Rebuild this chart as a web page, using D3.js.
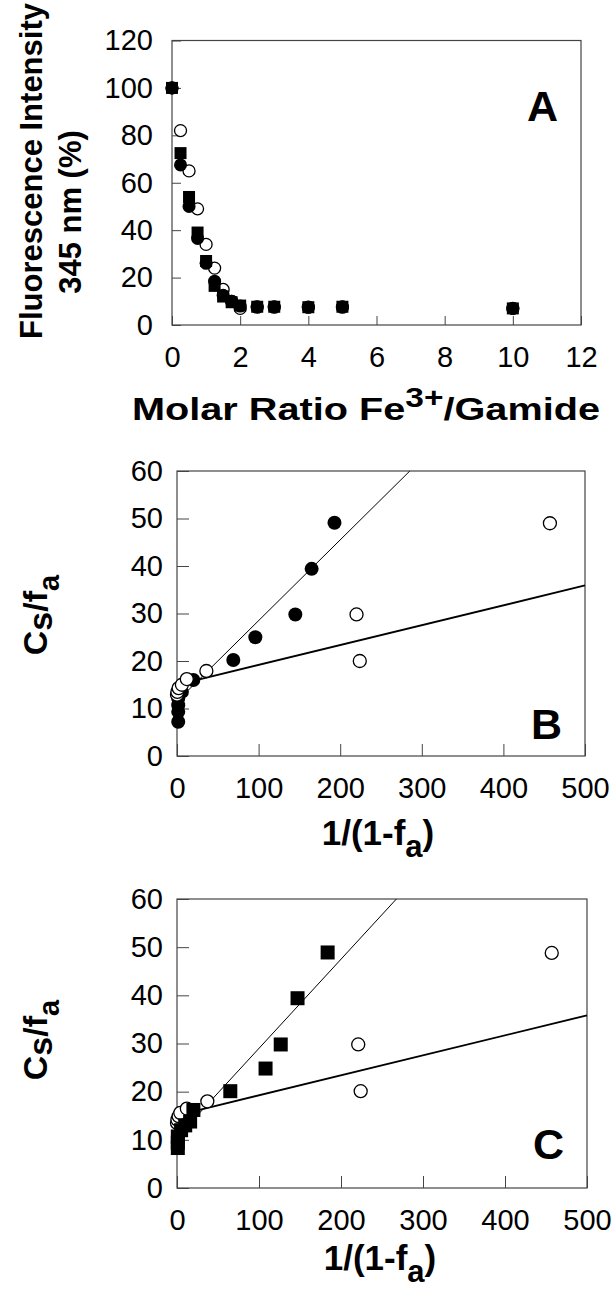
<!DOCTYPE html>
<html>
<head>
<meta charset="utf-8">
<script src="https://cdn.jsdelivr.net/npm/d3@7"></script>
<style>
  body { margin: 0; background: #fff; }
  text { font-family: "Liberation Sans", Arial, Helvetica, sans-serif; fill: #000; }
</style>
</head>
<body>
<svg id="chart" width="616" height="1298"></svg>
<script>
// ---- panel A: fluorescence vs molar ratio ----
const ratioA = [0, 0.25, 0.5, 0.75, 1, 1.25, 1.5, 1.75, 2, 2.5, 3, 4, 5, 10];
const openCircA = [100, 82, 65, 49, 34, 24, 15, 10, 7, 7.5, 7.5, 7.5, 7.5, 7];
const filledCircA = [100, 67.5, 50, 36.5, 26, 18.5, 12.5, 10, 8, 7.7, 7.7, 7.5, 7.7, 7];
const filledSqA = [100, 72.5, 54, 39, 27, 16.5, 12, 9.6, 8.2, 7.7, 7.7, 7.5, 7.7, 7];
const ticksAx = [0, 2, 4, 6, 8, 10, 12];
const ticksAy = [0, 20, 40, 60, 80, 100, 120];

// ---- panel B ----
const filledBx = [1.5, 1.5, 1.5, 1.5, 6, 20, 69, 96, 145, 165, 193];
const filledBy = [7.2, 9.3, 10.7, 12.1, 13.5, 16, 20.2, 25, 29.8, 39.4, 49.1];
const openBx = [0, 0.5, 2, 6, 12, 36, 220, 224, 457];
const openBy = [12.9, 13.5, 14.3, 15, 16.2, 17.9, 29.8, 20, 49];
// fitted lines: [intercept, slope, start x]
const steepB = [11.5, 0.170, 0];
const shallowB = [15.0, 0.0418, 15];

// ---- panel C ----
const squareCx = [1, 1, 1, 5, 10, 16, 20, 65, 108, 126.5, 147, 183.7];
const squareCy = [8.3, 9.4, 10.7, 12, 13, 13.8, 16.2, 20.1, 24.8, 29.8, 39.4, 48.9];
const openCx = [0, 0.5, 2, 4, 12, 37, 221, 224, 457];
const openCy = [13.5, 14.2, 14.9, 15.6, 16.5, 18, 29.8, 20.1, 48.8];
const steepC = [10.5, 0.185, 0];
const shallowC = [15.1, 0.0415, 15];

const ticksBx = [0, 100, 200, 300, 400, 500];
const ticksBy = [0, 10, 20, 30, 40, 50, 60];

const svg = d3.select("#chart");
svg.append("rect").attr("width", 616).attr("height", 1298).attr("fill", "#fff");

function zip(xs, ys) { return xs.map((v, i) => [v, ys[i]]); }

function drawPanel(p) {
  const g = svg.append("g");
  const x = d3.scaleLinear().domain(p.xDomain).range([p.left, p.right]);
  const y = d3.scaleLinear().domain(p.yDomain).range([p.bottom, p.top]);

  // x axis, ticks pointing inward
  const xa = g.append("g")
    .attr("transform", `translate(0,${p.bottom})`)
    .call(d3.axisBottom(x).tickValues(p.xTicks).tickSize(-p.tick).tickPadding(21));
  const ya = g.append("g")
    .attr("transform", `translate(${p.left},0)`)
    .call(d3.axisLeft(y).tickValues(p.yTicks).tickSize(-p.tick).tickPadding(p.ypad));
  [xa, ya].forEach(a => {
    a.select(".domain").remove();
    a.selectAll("line").attr("stroke", "#444");
    a.selectAll("text").style("font-size", "29px").attr("fill", "#000");
  });

  // frame
  g.append("rect")
    .attr("x", p.left).attr("y", p.top)
    .attr("width", p.right - p.left).attr("height", p.bottom - p.top)
    .attr("fill", "none").attr("stroke", "#444").attr("stroke-width", 1.2);

  // fitted lines
  (p.lines || []).forEach(l => {
    const [a, b, x0] = l.fit;
    let x1 = p.xDomain[1];
    if (a + b * x1 > p.yDomain[1]) x1 = (p.yDomain[1] - a) / b;
    g.append("line")
      .attr("x1", x(x0)).attr("y1", y(a + b * x0))
      .attr("x2", x(x1)).attr("y2", y(a + b * x1))
      .attr("stroke", "#000").attr("stroke-width", l.width);
  });

  // markers
  p.series.forEach(s => {
    if (s.shape === "square") {
      g.selectAll(null).data(s.data).join("rect")
        .attr("x", d => x(d[0]) - s.size / 2)
        .attr("y", d => y(d[1]) - s.size / 2)
        .attr("width", s.size).attr("height", s.size)
        .attr("fill", "#000");
    } else {
      g.selectAll(null).data(s.data).join("circle")
        .attr("cx", d => x(d[0])).attr("cy", d => y(d[1]))
        .attr("r", s.size / 2)
        .attr("fill", s.open ? "#fff" : "#000")
        .attr("stroke", "#000").attr("stroke-width", s.open ? 1.3 : 0);
    }
  });

  // panel letter
  g.append("text")
    .attr("x", p.letterX).attr("y", p.letterY)
    .attr("text-anchor", "end")
    .style("font-size", "43px").style("font-weight", "bold")
    .text(p.letter);
  return { x, y };
}

drawPanel({
  left: 172, right: 581, top: 40.5, bottom: 325, tick: 9, ypad: 19,
  xDomain: [0, 12], yDomain: [0, 120], xTicks: ticksAx, yTicks: ticksAy,
  series: [
    { shape: "circle", open: true, size: 12, data: zip(ratioA, openCircA) },
    { shape: "square", size: 12, data: zip(ratioA, filledSqA) },
    { shape: "circle", size: 13, data: zip(ratioA, filledCircA) }
  ],
  letter: "A", letterX: 558, letterY: 121
});

drawPanel({
  left: 177, right: 585, top: 471, bottom: 756, tick: 12, ypad: 14,
  xDomain: [0, 500], yDomain: [0, 60], xTicks: ticksBx, yTicks: ticksBy,
  lines: [{ fit: steepB, width: 1 }, { fit: shallowB, width: 1.8 }],
  series: [
    { shape: "circle", size: 14, data: zip(filledBx, filledBy) },
    { shape: "circle", open: true, size: 13, data: zip(openBx, openBy) }
  ],
  letter: "B", letterX: 562, letterY: 739
});

drawPanel({
  left: 177, right: 587, top: 899, bottom: 1188, tick: 12, ypad: 14,
  xDomain: [0, 500], yDomain: [0, 60], xTicks: ticksBx, yTicks: ticksBy,
  lines: [{ fit: steepC, width: 1 }, { fit: shallowC, width: 1.8 }],
  series: [
    { shape: "circle", open: true, size: 13, data: zip(openCx, openCy) },
    { shape: "square", size: 14, data: zip(squareCx, squareCy) }
  ],
  letter: "C", letterX: 564, letterY: 1159
});

// ---- axis titles ----
const bold = s => s.style("font-weight", "bold");

// A y title (two lines)
bold(svg.append("text"))
  .attr("transform", "translate(42,171) rotate(-90)")
  .attr("text-anchor", "middle").style("font-size", "31px")
  .text("Fluorescence Intensity");
bold(svg.append("text"))
  .attr("transform", "translate(81,212) rotate(-90)")
  .attr("text-anchor", "middle").style("font-size", "31px")
  .text("345 nm (%)");

// A x title
const tA = bold(svg.append("text"))
  .attr("x", 366).attr("y", 420).attr("text-anchor", "middle")
  .style("font-size", "32px")
  .attr("textLength", 468).attr("lengthAdjust", "spacingAndGlyphs");
tA.append("tspan").text("Molar Ratio Fe");
tA.append("tspan").attr("dy", -13).style("font-size", "27px").text("3+");
tA.append("tspan").attr("dy", 13).text("/Gamide");

// B and C titles
function csTitle(cy) {
  const t = bold(svg.append("text"))
    .attr("transform", `translate(47,${cy}) rotate(-90)`)
    .attr("text-anchor", "middle").style("font-size", "34px");
  t.append("tspan").text("C");
  t.append("tspan").attr("dy", 5).text("s");
  t.append("tspan").attr("dy", -5).text("/f");
  t.append("tspan").attr("dy", 12).style("font-size", "29px").text("a");
}
function faTitle(cx, by) {
  const t = bold(svg.append("text"))
    .attr("x", cx).attr("y", by).attr("text-anchor", "middle")
    .style("font-size", "35px");
  t.append("tspan").text("1/(1-f");
  t.append("tspan").attr("dy", 12).style("font-size", "31px").text("a");
  t.append("tspan").attr("dy", -12).text(")");
}
csTitle(615);
faTitle(378, 845);
csTitle(1040);
faTitle(380, 1270);
</script>
</body>
</html>
